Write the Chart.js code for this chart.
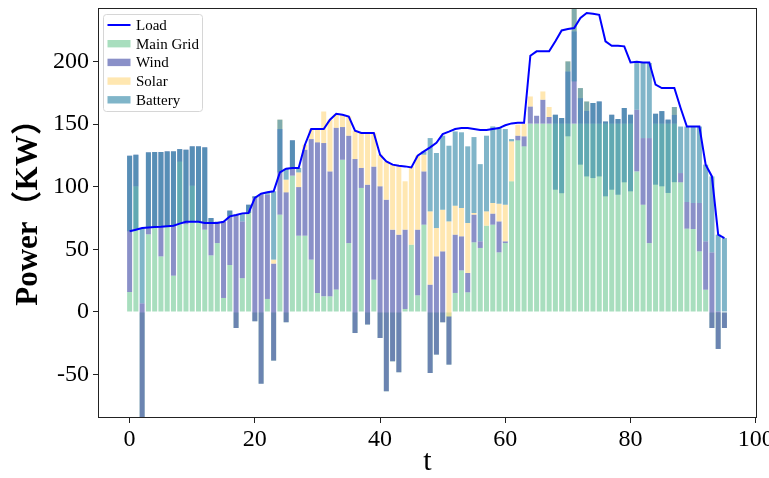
<!DOCTYPE html>
<html><head><meta charset="utf-8">
<script src="https://cdn.jsdelivr.net/npm/chart.js@4"></script>
<style>html,body{margin:0;padding:0;background:#fff;}</style>
</head><body>
<canvas id="c" width="769" height="478"></canvas>
<script>
const t = [0,1,2,3,4,5,6,7,8,9,10,11,12,13,14,15,16,17,18,19,20,21,22,23,24,25,26,27,28,29,30,31,32,33,34,35,36,37,38,39,40,41,42,43,44,45,46,47,48,49,50,51,52,53,54,55,56,57,58,59,60,61,62,63,64,65,66,67,68,69,70,71,72,73,74,75,76,77,78,79,80,81,82,83,84,85,86,87,88,89,90,91,92,93,94,95];
const load = [64.4,65.7,67,67.5,67.8,68,68.4,68.9,70.5,72,
 72,72,71,71,71,72,76.3,77.4,78.7,79,
 91,94.4,95.5,96.3,111.4,114.4,115,115,133.5,146,
 146,146,153.5,158.2,157.4,156,144.7,142.8,142.8,142.8,
 125.5,120.2,117.6,116.8,116.2,115.4,124.7,128.2,131.4,135,
 142,143.9,146,146.8,146.8,146,145.2,145.2,146,146.8,
 149,150.5,151,151,204.5,208,208,208,216,224.7,
 225.8,226.6,234.6,238.6,238,237.2,216,212.5,212.5,212,
 199.2,199.7,199.2,199.2,181.4,178.7,178.7,178.7,162.8,148,
 148,148,117.6,108.2,61.7,59];
const mainGrid = [16,100.3,-95,62,67,44.4,68,29,120,70,
 100.8,72,65.7,45.2,55,11.2,37.5,-12.8,27,79,
 -7.4,-57.2,10.4,-38.8,77.7,-8.2,108.8,60.9,60.9,41.8,
 15.2,12.5,12.5,18,121.5,55,-16.8,99,-10,25.8,
 -20.7,-63.3,-39.4,-48.1,2.4,53.7,13.3,69.7,-48.7,-34,
 -8.2,-42,15.2,33.2,15.7,55.6,51.1,68.9,69.7,47.6,
 55,104.3,137,132.2,150.3,150.3,150.3,150.3,150.3,150.3,
 150.3,150.3,150.3,150.3,150.3,150.3,150.3,150.3,150.3,150.3,
 150.3,112.2,85.6,55,150.3,150.3,150.3,150.3,103.5,66.5,
 66.2,48.4,17.8,-12.8,-29.5,-12.8];
const wind = [108.7,25.2,102,65.4,60.7,83.3,60.2,99.2,10,59.5,
 31.4,60.2,65.7,29.8,17,61,43.4,90.5,45.3,6.6,
 99.7,151.2,83.2,77.4,68.3,103.7,28.2,38.8,68.6,96.2,
 120.2,122.3,99.7,129,26.1,85.7,138.8,16,111.6,90.2,
 121,152.9,105.1,109.8,63.3,0,52.4,42.5,70.5,78.4,
 56.6,38.5,46.5,27.2,15.4,22.1,5.3,0,8.8,24.7,
 1.4,0,3.7,8,13.7,6.3,19.1,5.3,7.1,4.5,
 41.7,73.7,20.4,10.3,16.5,17.7,1.7,7.1,3.7,12.5,
 7.1,49.2,53.2,83.8,7.9,10,3.2,7,7.4,21.3,
 20.8,38.6,38.6,60.4,30,12.8];
const solar = [0,0,0,0,0,0,0,0,0,0,
 0,0,0,0,0,0,0,0,0,0,
 0,0,0,3.2,7.5,10.1,0,11.7,4,8,
 10.6,25.2,41.3,11,9.8,15.3,22.7,27.8,41.2,26.8,
 25.2,30.6,51.9,55.1,38.6,62.5,59,13.3,58.5,22.6,
 33.2,75.8,23.1,22.6,39.9,1.3,0,11.4,8.5,14.1,
 29.2,31.9,8.8,10.1,8,0,6.6,8,0,0,
 8,20,8,7.4,0,0,0,0,0,0,
 0,0,0,0,0,0,0,6.3,0,0,
 0,0,0,0,0,0];
const battery = [-60.3,-59.8,60,-59.9,-59.9,-59.7,-59.8,-59.3,-59.5,-57.5,
 -60.2,-60.2,-60.4,-4,-1,0,-4.6,0,6.4,-6.6,
 -1.3,0,1.9,54.5,-42.1,8.8,-22,3.6,0,0,
 0,0,0,0,0,0,0,0,0,0,
 0,0,0,0,0,0,0,2.7,58.5,59.9,
 59.1,60.4,59.3,60.4,61.2,60.6,61.6,60.4,61.1,60.4,
 60.4,1.8,0,0,0,0,0,0,-59.8,-60,
 -59.8,-60,-61.1,-59.8,-59.9,-59.8,-59.7,-59.8,-60.4,-59.3,
 -61.1,37.3,59.9,59.9,-56.6,-60,-58.5,-60,37.1,60.2,
 61,61,61.2,60.6,61.2,59];
const xTicks = [0,20,40,60,80,100];
const xTickLabels = ['0','20','40','60','80','100'];
const yTicks = [-50,0,50,100,150,200];
const yTickLabels = ['-50','0','50','100','150','200'];

// stacked floating segments built from the series
const lvl1 = mainGrid;
const lvl2 = t.map((_, i) => lvl1[i] + wind[i]);
const lvl3 = t.map((_, i) => lvl2[i] + solar[i]);
const lvl4 = t.map((_, i) => lvl3[i] + battery[i]);
const seg = (lo, hi) => t.map((x, i) => ({x: x, y: [lo ? lo[i] : 0, hi[i]]}));

const SERIF = "'Liberation Serif','Times New Roman','DejaVu Serif',serif";
const barCommon = {type: 'bar', grouped: false, barPercentage: 0.8, categoryPercentage: 1, borderWidth: 0};

const extras = {
  id: 'extras',
  afterDraw(chart) {
    const c = chart.ctx, a = chart.chartArea;
    c.save();
    c.strokeStyle = '#222'; c.lineWidth = 1;
    c.strokeRect(Math.round(a.left) + 0.5, Math.round(a.top) + 0.5, Math.round(a.right - a.left) - 1, Math.round(a.bottom - a.top) - 1);
    c.fillStyle = '#000';
    c.textAlign = 'center'; c.textBaseline = 'middle';
    c.font = "30px " + SERIF;
    c.fillText('t', (a.left + a.right) / 2, 462);
    c.translate(29, 205);
    c.rotate(-Math.PI / 2);
    c.font = "bold 31px " + SERIF + ",'Noto Sans CJK SC'";
    c.fillText('Power\uFF08KW\uFF09', 0, 0);
    c.restore();
    c.save();
    const bx = 103.5, by = 14.5, bw = 99, bh = 97, r = 3;
    c.beginPath();
    c.moveTo(bx + r, by); c.lineTo(bx + bw - r, by); c.quadraticCurveTo(bx + bw, by, bx + bw, by + r);
    c.lineTo(bx + bw, by + bh - r); c.quadraticCurveTo(bx + bw, by + bh, bx + bw - r, by + bh);
    c.lineTo(bx + r, by + bh); c.quadraticCurveTo(bx, by + bh, bx, by + bh - r);
    c.lineTo(bx, by + r); c.quadraticCurveTo(bx, by, bx + r, by);
    c.closePath();
    c.fillStyle = 'rgba(255,255,255,0.8)'; c.fill();
    c.strokeStyle = '#d6d6d6'; c.lineWidth = 1; c.stroke();
    const ds = chart.data.datasets;
    c.font = "15px " + SERIF; c.textAlign = 'left'; c.textBaseline = 'middle';
    [0, 1, 2, 3, 4].forEach((di, k) => {
      const d = ds[di];
      const yc = 25 + k * 18.7;
      if (d.type === 'line') {
        c.strokeStyle = d.borderColor; c.lineWidth = 2;
        c.beginPath(); c.moveTo(107.5, yc); c.lineTo(130.5, yc); c.stroke();
      } else {
        c.fillStyle = d.backgroundColor;
        c.fillRect(107.5, yc - 3.7, 23, 7.4);
      }
      c.fillStyle = '#000';
      c.fillText(d.label, 136, yc + 1);
    });
    c.restore();
  }
};

new Chart(document.getElementById('c'), {
  type: 'bar',
  data: {
    datasets: [
      {type: 'line', label: 'Load', data: t.map((x, i) => ({x: x, y: load[i]})), borderColor: '#0000ff', borderWidth: 2, pointRadius: 0, tension: 0, fill: false, order: 0},
      Object.assign({}, barCommon, {label: 'Main Grid', data: seg(null, lvl1), backgroundColor: 'rgba(121,204,155,0.65)', order: 4}),
      Object.assign({}, barCommon, {label: 'Wind', data: seg(lvl1, lvl2), backgroundColor: 'rgba(75,84,170,0.65)', order: 3}),
      Object.assign({}, barCommon, {label: 'Solar', data: seg(lvl2, lvl3), backgroundColor: 'rgba(255,218,135,0.65)', order: 2}),
      Object.assign({}, barCommon, {label: 'Battery', data: seg(lvl3, lvl4), backgroundColor: 'rgba(60,141,172,0.65)', order: 1})
    ]
  },
  options: {
    responsive: false, animation: false, devicePixelRatio: 1,
    layout: {padding: {top: 8, right: 12, left: 0, bottom: 0}},
    plugins: {legend: {display: false}, tooltip: {enabled: false}},
    scales: {
      x: {
        type: 'linear', min: -5.05, max: 100.2, offset: false,
        afterBuildTicks: s => { s.ticks = xTicks.map(v => ({value: v})); },
        afterFit: s => { s.height = 60; s.paddingLeft = 0; s.paddingRight = 0; },
        grid: {display: true, drawOnChartArea: false, drawTicks: true, tickLength: 5, color: '#222', tickColor: '#222', offset: false},
        border: {display: false},
        ticks: {color: '#000', font: {family: SERIF, size: 24}, padding: 2, maxRotation: 0, autoSkip: false, callback: (v, i) => xTickLabels[i]}
      },
      y: {
        type: 'linear', min: -84.6, max: 242.6,
        afterBuildTicks: s => { s.ticks = yTicks.map(v => ({value: v})); },
        afterFit: s => { s.width = 98; s.paddingTop = 0; s.paddingBottom = 0; },
        grid: {display: true, drawOnChartArea: false, drawTicks: true, tickLength: 5, color: '#222', tickColor: '#222'},
        border: {display: false},
        ticks: {color: '#000', font: {family: SERIF, size: 24}, padding: 4, autoSkip: false, callback: (v, i) => yTickLabels[i]}
      }
    }
  },
  plugins: [extras]
});
</script>
</body></html>
